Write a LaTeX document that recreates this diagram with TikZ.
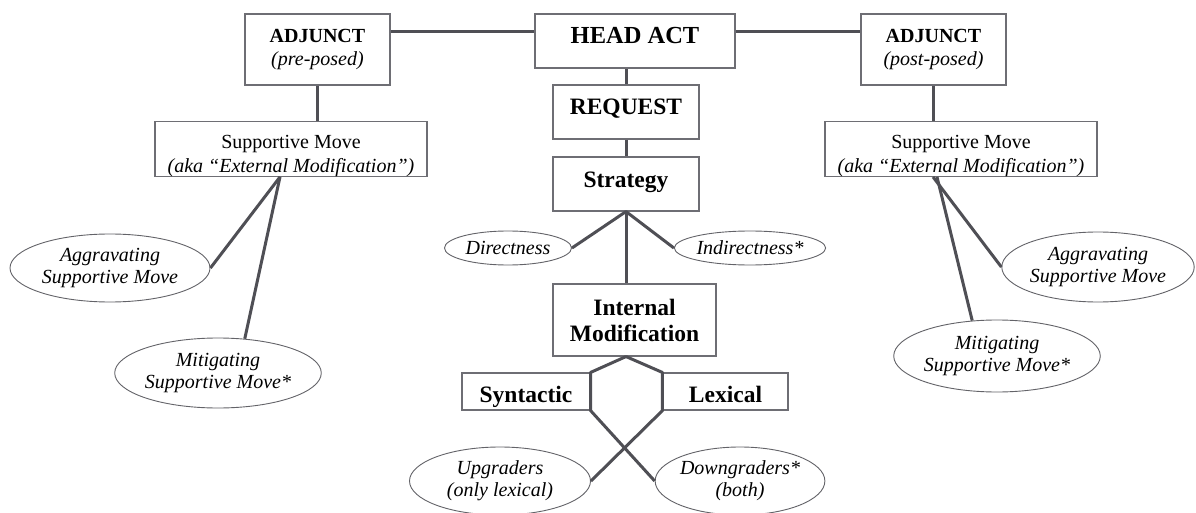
\documentclass[tikz,border=0pt]{standalone}
\usepackage{fontspec}
\setmainfont{Liberation Serif}
\usetikzlibrary{shapes.geometric}
\definecolor{conn}{HTML}{4F4F55}
\definecolor{bord}{HTML}{6E6E74}
\tikzset{
  box/.style={draw=bord, line width=1.1pt, fill=white, rectangle, inner sep=0pt, align=center},
  oval/.style={draw=bord!90!black, line width=0.9pt, fill=white, ellipse, inner sep=0pt, align=center, font=\fontsize{20}{22}\selectfont\itshape},
  link/.style={draw=conn, line width=3pt, line join=round},
  bighead/.style={font=\fontsize{24.5}{27}\selectfont\bfseries},
  midhead/.style={font=\fontsize{23.5}{26}\selectfont\bfseries},
  adjtext/.style={font=\fontsize{20}{22.5}\selectfont},
  smtext/.style={font=\fontsize{20}{23.5}\selectfont},
}
\begin{document}
\begin{tikzpicture}[x=1pt,y=-1pt]
\useasboundingbox (0,0) rectangle (1196,513);
% nodes
\node[box, adjtext, minimum width=145, minimum height=71] (adjl) at (317.5,49.5)
  {\textbf{ADJUNCT}\\\textit{(pre-posed)}};
\node[box, bighead, minimum width=200, minimum height=54, text height=17, text depth=12] (head) at (635,41) {HEAD ACT};
\node[box, adjtext, minimum width=145, minimum height=71] (adjr) at (933.5,49.5)
  {\textbf{ADJUNCT}\\\textit{(post-posed)}};
\node[box, midhead, minimum width=146, minimum height=54, text height=16, text depth=10] (req) at (626,112) {REQUEST};
\node[box, midhead, minimum width=146, minimum height=54, text height=16, text depth=8] (strat) at (626,184) {Strategy};
\node[box, midhead, minimum width=163, minimum height=72] (intm) at (634.5,320) {Internal\\Modification};
\node[box, midhead, minimum width=128, minimum height=37, text height=22, text depth=0] (syn) at (526,391.5) {Syntactic};
\node[box, midhead, minimum width=125, minimum height=37, text height=22, text depth=0] (lex) at (725.5,391.5) {Lexical};
\node[box, smtext, minimum width=272, minimum height=54] (sml) at (291,149)
  {\rule{0pt}{27pt}Supportive Move\\\textit{(aka “External Modification”)}};
\node[box, smtext, minimum width=272, minimum height=54] (smr) at (961,149)
  {\rule{0pt}{27pt}Supportive Move\\\textit{(aka “External Modification”)}};
\node[oval, minimum width=127, minimum height=34] (dir) at (508,248) {Directness};
\node[oval, minimum width=140, minimum height=34] (ind) at (750,248) {Indirectness*};
\node[oval, minimum width=181, minimum height=68] (upg) at (500,481) {Upgraders\\(only lexical)};
\node[oval, minimum width=156, minimum height=68] (dng) at (740,481) {Downgraders*\\(both)};
\node[oval, minimum width=200, minimum height=68] (lagg) at (110,268) {Aggravating\\Supportive Move};
\node[oval, minimum width=200, minimum height=70] (lmit) at (218,373) {Mitigating\\Supportive Move*};
\node[oval, minimum width=188, minimum height=70] (ragg) at (1098,267) {Aggravating\\Supportive Move};
\node[oval, minimum width=200, minimum height=72] (rmit) at (997,356) {Mitigating\\Supportive Move*};
% connectors
\draw[link] (adjl.east |- 0,32) -- (head.west |- 0,32);
\draw[link] (head.east |- 0,32) -- (adjr.west |- 0,32);
\draw[link] (adjl.south) -- (adjl.south |- sml.north);
\draw[link] (adjr.south) -- (adjr.south |- smr.north);
\draw[link] (req.north) -- (req.north |- head.south);
\draw[link] (req.south) -- (strat.north);
\draw[link] (strat.south) -- (strat.south |- intm.north);
\draw[link] (dir.east) -- (strat.south) -- (ind.west);
\draw[link] (intm.south -| strat.south) -- (syn.north east) -- (syn.south east) -- (dng.west);
\draw[link] (intm.south -| strat.south) -- (lex.north west) -- (lex.south west) -- (upg.east);
\draw[link] ([xshift=-11pt]sml.south) -- (lagg.east);
\draw[link] ([xshift=-11pt]sml.south) -- (lmit.52);
\draw[link] ([xshift=-28pt]smr.south) -- (ragg.west);
\draw[link] ([xshift=-24pt]smr.south) -- (rmit.125);
\end{tikzpicture}
\end{document}
